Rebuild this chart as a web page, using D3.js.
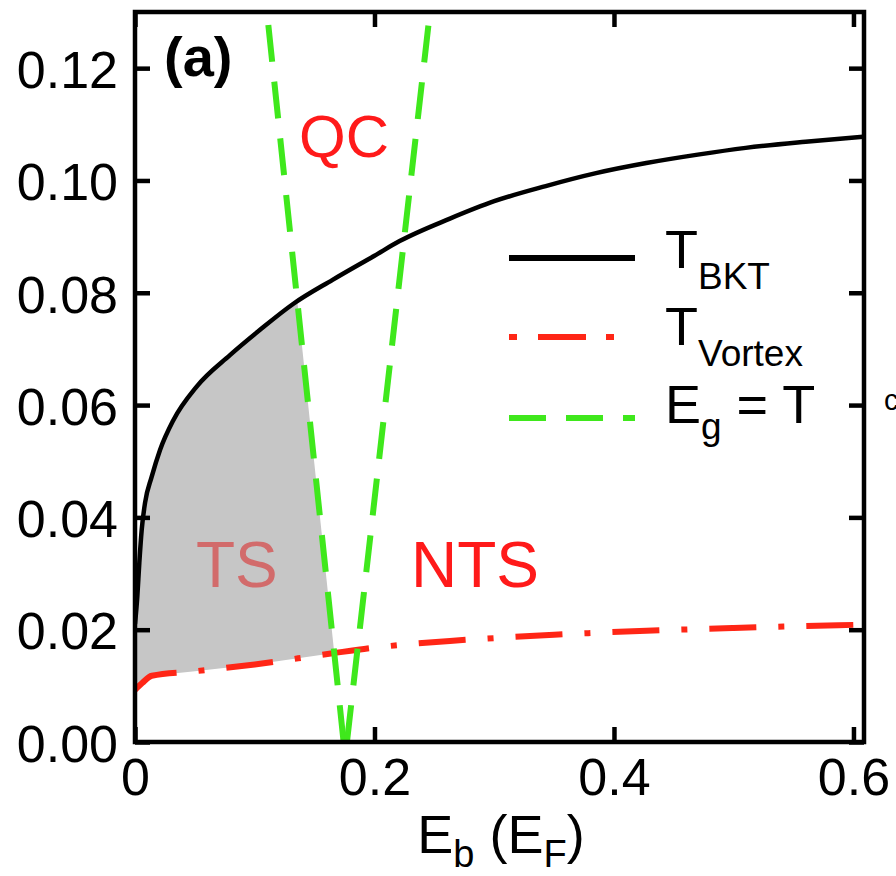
<!DOCTYPE html>
<head>
  <meta charset="utf-8">
  <script src="https://d3js.org/d3.v7.min.js"></script>
  <style>
    body { margin:0; background:#fff; }
    svg { display:block; font-family: "Liberation Sans", Arial, sans-serif; }
  </style>
</head>

<body>
<script type='text/javascript'>
  // T_BKT curve
  var bktE = [0, 0.0019, 0.0036, 0.0056, 0.0084, 0.0139, 0.0209, 0.032, 0.0515, 0.0793, 0.1044,
              0.132, 0.165, 0.2, 0.221, 0.263, 0.3, 0.343, 0.385, 0.427, 0.47, 0.51, 0.56, 0.608];
  var bktT = [0.021, 0.0258, 0.0319, 0.0378, 0.0426, 0.0472, 0.052, 0.0573, 0.0633, 0.0689, 0.0734,
              0.0780, 0.0823, 0.0866, 0.0892, 0.0932, 0.0963, 0.0990, 0.1013, 0.1031, 0.1046, 0.1058, 0.1069, 0.1078];

  // T_Vortex curve
  var vortE = [0, 0.006, 0.014, 0.05, 0.1, 0.165, 0.2, 0.263, 0.3, 0.35, 0.427, 0.5, 0.608];
  var vortT = [0.0093, 0.0105, 0.0118, 0.0126, 0.0138, 0.0158, 0.0168, 0.0180, 0.0185, 0.0191, 0.0198, 0.0203, 0.0209];

  // E_g = T lines (two straight branches)
  var egLowE = [0.1742, 0.1102];
  var egLowT = [0, 0.13];
  var egHighE = [0.177, 0.2463];
  var egHighT = [0, 0.13];

  var xTicks = [0, 0.2, 0.4, 0.6];
  var yTicks = [0, 0.02, 0.04, 0.06, 0.08, 0.10, 0.12];

  var zip = (a, b) => a.map((d, i) => ({E: d, T: b[i]}));
  var bkt = zip(bktE, bktT), vort = zip(vortE, vortT);
  var egLow = zip(egLowE, egLowT), egHigh = zip(egHighE, egHighT);

  var W = 896, H = 876;
  // plot frame ("top" is taken by window.top, so other names)
  var pL = 135, pR = 864, pT = 12, pB = 742;

  var svg = d3.select('body').append('svg')
    .attr('width', W).attr('height', H);

  var x = d3.scaleLinear().domain([0, 0.6088]).range([pL, pR]);
  var y = d3.scaleLinear().domain([0, 0.13]).range([pB, pT]);

  svg.append('clipPath').attr('id', 'plot')
    .append('rect').attr('x', pL).attr('y', pT)
    .attr('width', pR - pL).attr('height', pB - pT);

  // where a polyline crosses the low E_g branch
  function egLowAt(T) {
    return egLow[0].E + (egLow[1].E - egLow[0].E) * (T - egLow[0].T) / (egLow[1].T - egLow[0].T);
  }
  function cross(pts) {
    for (var i = 1; i < pts.length; i++) {
      var a = pts[i - 1], b = pts[i];
      var fa = a.E - egLowAt(a.T), fb = b.E - egLowAt(b.T);
      if (fa <= 0 && fb > 0) {
        var t = fa / (fa - fb);
        return {i: i, p: {E: a.E + t * (b.E - a.E), T: a.T + t * (b.T - a.T)}};
      }
    }
  }

  // shaded TS region
  var cb = cross(bkt), cv = cross(vort);
  var region = bkt.slice(0, cb.i).concat([cb.p, cv.p], vort.slice(0, cv.i).reverse());

  var lin = d3.line().x(d => x(d.E)).y(d => y(d.T));
  var smooth = d3.line().x(d => x(d.E)).y(d => y(d.T)).curve(d3.curveMonotoneX);

  var g = svg.append('g').attr('clip-path', 'url(#plot)');

  g.append('path').attr('d', lin(region) + 'Z')
    .attr('fill', '#c6c6c6');

  g.append('path').attr('d', smooth(bkt))
    .attr('fill', 'none').attr('stroke', '#000').attr('stroke-width', 4.5);

  g.append('path').attr('d', smooth(vort))
    .attr('fill', 'none').attr('stroke', '#ff2616').attr('stroke-width', 6)
    .attr('stroke-dasharray', '47,22,6,22');

  [egLow, egHigh].forEach(function(d) {
    g.append('path').attr('d', lin(d))
      .attr('fill', 'none').attr('stroke', '#3fe81c').attr('stroke-width', 6)
      .attr('stroke-dasharray', '37,20');
  });

  // axes, ticks pointing inward on all four sides
  var fmtX = d => d === 0 ? '0' : d3.format('.1f')(d);

  svg.append('g').attr('transform', 'translate(0,' + pB + ')')
    .call(d3.axisBottom(x).tickValues(xTicks).tickSize(-15).tickPadding(16).tickFormat(fmtX));
  svg.append('g').attr('transform', 'translate(0,' + pT + ')')
    .call(d3.axisTop(x).tickValues(xTicks).tickSize(-15).tickFormat(''));
  var ay = svg.append('g').attr('transform', 'translate(' + pL + ',0)')
    .call(d3.axisLeft(y).tickValues(yTicks).tickSize(-15).tickPadding(17).tickFormat(d3.format('.2f')));
  svg.append('g').attr('transform', 'translate(' + pR + ',0)')
    .call(d3.axisRight(y).tickValues(yTicks).tickSize(-15).tickFormat(''));

  svg.selectAll('.domain').remove();
  svg.selectAll('.tick line').attr('stroke', '#000').attr('stroke-width', 4.5);
  svg.selectAll('.tick text').attr('fill', '#000').attr('font-size', 52)
    .attr('font-family', '"Liberation Sans", Arial, sans-serif');
  ay.selectAll('.tick text').attr('dy', '0.37em');

  svg.append('rect').attr('x', pL).attr('y', pT)
    .attr('width', pR - pL).attr('height', pB - pT)
    .attr('fill', 'none').attr('stroke', '#000').attr('stroke-width', 4.5);

  // x axis title
  var xt = svg.append('text').attr('x', 501).attr('y', 853)
    .attr('text-anchor', 'middle').attr('font-size', 54);
  xt.append('tspan').text('E');
  xt.append('tspan').attr('font-size', 38).attr('dy', 14).text('b');
  xt.append('tspan').attr('dy', -14).text(' (E');
  xt.append('tspan').attr('font-size', 38).attr('dy', 14).text('F');
  xt.append('tspan').attr('dy', -14).text(')');

  // region labels
  svg.append('text').attr('x', 164).attr('y', 76).attr('font-size', 56)
    .attr('font-weight', 'bold').text('(a)');
  svg.append('text').attr('x', 299).attr('y', 157).attr('font-size', 60)
    .attr('fill', '#ff1a1a').text('QC');
  svg.append('text').attr('x', 196).attr('y', 587).attr('font-size', 64)
    .attr('fill', '#d26b6b').text('TS');
  svg.append('text').attr('x', 411).attr('y', 587).attr('font-size', 64)
    .attr('fill', '#ff1a1a').text('NTS');

  // legend
  var legend = [
    {main: 'T', sub: 'BKT', rest: '', y: 258, color: '#000', dash: null, x2: 635},
    {main: 'T', sub: 'Vortex', rest: '', y: 337, color: '#ff2616', dash: '8,21,48,20', x2: 618},
    {main: 'E', sub: 'g', rest: ' = T', y: 418, color: '#3fe81c', dash: '37,20', x2: 635}
  ];
  var textY = [268, 345, 423];
  legend.forEach(function(d, i) {
    svg.append('line').attr('x1', 509).attr('x2', d.x2).attr('y1', d.y).attr('y2', d.y)
      .attr('stroke', d.color).attr('stroke-width', 6)
      .attr('stroke-dasharray', d.dash);
    var t = svg.append('text').attr('x', 665).attr('y', textY[i]).attr('font-size', 54);
    t.append('tspan').text(d.main);
    t.append('tspan').attr('font-size', 37).attr('dy', i === 2 ? 16 : 21).text(d.sub);
    if (d.rest) t.append('tspan').attr('dy', -16).text(d.rest);
  });

  // fragment of the neighbouring panel, cut by the edge
  svg.append('text').attr('x', 884).attr('y', 410).attr('font-size', 29).text('c');
</script>
</body>
